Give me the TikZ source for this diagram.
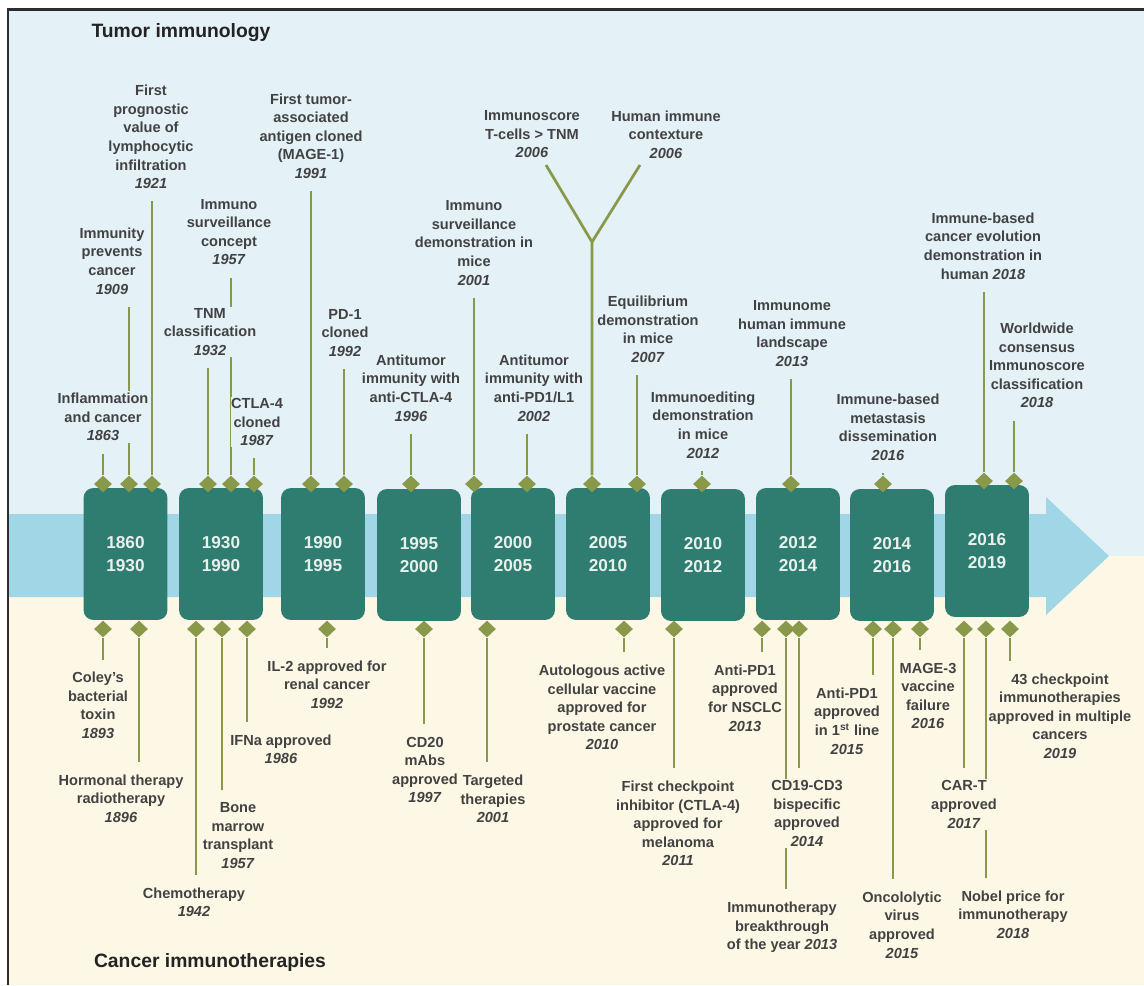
\documentclass[tikz,border=0pt]{standalone}
\usepackage{fontspec}
\setmainfont{Liberation Sans}
\usetikzlibrary{shapes.geometric, positioning, calc}

\definecolor{skyzone}{RGB}{228,241,247}
\definecolor{sandzone}{RGB}{253,248,229}
\definecolor{bandblue}{RGB}{160,214,230}
\definecolor{boxteal}{RGB}{47,124,113}
\definecolor{boxink}{RGB}{232,240,236}
\definecolor{stemgreen}{RGB}{137,153,73}
\definecolor{inkgray}{RGB}{66,66,66}
\definecolor{headink}{RGB}{35,35,35}
\definecolor{framegray}{RGB}{45,45,45}

\pgfdeclarelayer{backdrop}
\pgfdeclarelayer{stems}
\pgfsetlayers{backdrop,stems,main}

\newcommand{\evfont}{\fontsize{8.3pt}{10.55pt}\selectfont\bfseries}
\newcommand{\boxfont}{\fontsize{9.8pt}{13pt}\selectfont\bfseries}
\newcommand{\headfont}{\fontsize{11pt}{13pt}\selectfont\bfseries}

\tikzset{
    evtext/.style={align=center, font=\evfont, text=inkgray, inner xsep=0.3pt, inner ysep=1pt, outer xsep=0pt, outer ysep=0.22cm},
    evtop/.style={evtext, fill=skyzone},
    evbot/.style={evtext, fill=sandzone},
    period/.style={rectangle, rounded corners=0.2cm, fill=boxteal, minimum width=1.68cm, minimum height=2.64cm, align=center, text=boxink, font=\boxfont},
    knot/.style={diamond, fill=stemgreen, inner sep=0pt, minimum width=0.36cm, minimum height=0.34cm},
    stem/.style={draw=stemgreen, line width=0.055cm},
    heading/.style={font=\headfont, text=headink}
}

\begin{document}
\begin{tikzpicture}[x=0.02cm, y=-0.02cm]
\useasboundingbox (0,0) rectangle (1144,985);

\begin{pgfonlayer}{backdrop}
    \fill[white] (0,0) rectangle (1144,985);
    \fill[skyzone] (8,9) rectangle (1144,556);
    \fill[sandzone] (8,556) rectangle (1144,985);
    % time arrow
    \fill[bandblue] (8,514) -- (1046,514) -- (1046,497) -- (1109,556) -- (1046,615) -- (1046,597) -- (8,597) -- cycle;
    \draw[framegray, line width=0.06cm] (8,985) -- (8,9) -- (1144,9);
\end{pgfonlayer}

\node[heading] (toptitle) at (181,33) {Tumor immunology};
\node[heading] (bottitle) at (210,962) {Cancer immunotherapies};

% periods
\node[period] (p1) at (125.5,554) {1860\\1930};
\node[period] (p2) at (221,554) {1930\\1990};
\node[period] (p3) at (323,554) {1990\\1995};
\node[period] (p4) at (419,555) {1995\\2000};
\node[period] (p5) at (513,554) {2000\\2005};
\node[period] (p6) at (608,554) {2005\\2010};
\node[period] (p7) at (703,555) {2010\\2012};
\node[period] (p8) at (798,554) {2012\\2014};
\node[period] (p9) at (892,555) {2014\\2016};
\node[period] (p10) at (987,551) {2016\\2019};

% tumor immunology
\node[evtop] (lt1) at (103,417) {Inflammation\\and cancer\\\textit{1863}};
\node[evtop] (lt2) at (112,261) {Immunity\\prevents\\cancer\\\textit{1909}};
\node[evtop] (lt3) at (151,137) {First\\prognostic\\value of\\lymphocytic\\infiltration\\\textit{1921}};
\node[evtop] (lt5) at (229,232) {Immuno\\surveillance\\concept\\\textit{1957}};
\node[evtop] (lt4) at (210,332) {TNM\\classification\\\textit{1932}};
\node[evtop] (lt6) at (257,422) {CTLA-4\\cloned\\\textit{1987}};
\node[evtop] (lt7) at (311,136) {First tumor-\\associated\\antigen cloned\\(MAGE-1)\\\textit{1991}};
\node[evtop] (lt8) at (345,333) {PD-1\\cloned\\\textit{1992}};
\node[evtop] (lt9) at (411,388) {Antitumor\\immunity with\\anti-CTLA-4\\\textit{1996}};
\node[evtop] (lt10) at (474,243) {Immuno\\surveillance\\demonstration in\\mice\\\textit{2001}};
\node[evtop] (lt11) at (534,388) {Antitumor\\immunity with\\anti-PD1/L1\\\textit{2002}};
\node[evtop] (lt12) at (532,134.5) {Immunoscore\\T-cells > TNM\\\textit{2006}};
\node[evtop] (lt13) at (666,134.5) {Human immune\\contexture\\\textit{2006}};
\node[evtop] (lt14) at (648,329.5) {Equilibrium\\demonstration\\in mice\\\textit{2007}};
\node[evtop] (lt15) at (703,425) {Immunoediting\\demonstration\\in mice\\\textit{2012}};
\node[evtop] (lt16) at (792,333.5) {Immunome\\human immune\\landscape\\\textit{2013}};
\node[evtop] (lt17) at (888,427.5) {Immune-based\\metastasis\\dissemination\\\textit{2016}};
\node[evtop] (lt18) at (983,246) {Immune-based\\cancer evolution\\demonstration in\\human \textit{2018}};
\node[evtop] (lt19) at (1037,365.5) {Worldwide\\consensus\\Immunoscore\\classification\\\textit{2018}};

\coordinate (fork) at (592,242);
\coordinate (forkl) at (546,165);
\coordinate (forkr) at (640,165);

% cancer immunotherapies
\node[evbot] (lb1) at (98,705.5) {Coley's\\bacterial\\toxin\\\textit{1893}};
\node[evbot] (lb2) at (121,798.5) {Hormonal therapy\\radiotherapy\\\textit{1896}};
\node[evbot] (lb3) at (194,902.5) {Chemotherapy\\\textit{1942}};
\node[evbot] (lb4) at (238,835.5) {Bone\\marrow\\transplant\\\textit{1957}};
\node[evbot] (lb5) at (281,749.5) {IFNa approved\\\textit{1986}};
\node[evbot] (lb6) at (327,684.5) {IL-2 approved for\\renal cancer\\\textit{1992}};
\node[evbot] (lb7) at (425,770) {CD20\\mAbs\\approved\\\textit{1997}};
\node[evbot] (lb8) at (493,799) {Targeted\\therapies\\\textit{2001}};
\node[evbot] (lb9) at (602,707.5) {Autologous active\\cellular vaccine\\approved for\\prostate cancer\\\textit{2010}};
\node[evbot] (lb10) at (678,823.5) {First checkpoint\\inhibitor (CTLA-4)\\approved for\\melanoma\\\textit{2011}};
\node[evbot] (lb11) at (745,698) {Anti-PD1\\approved\\for NSCLC\\\textit{2013}};
\node[evbot] (lb12) at (782,927.5) {Immunotherapy\\breakthrough\\of the year \textit{2013}};
\node[evbot] (lb13) at (807,813.5) {CD19-CD3\\bispecific\\approved\\\textit{2014}};
\node[evbot] (lb14) at (847,721) {Anti-PD1\\approved\\in 1\textsuperscript{st} line\\\textit{2015}};
\node[evbot] (lb15) at (902,925) {Oncololytic\\virus\\approved\\\textit{2015}};
\node[evbot] (lb16) at (928,696) {MAGE-3\\vaccine\\failure\\\textit{2016}};
\node[evbot] (lb17) at (964,804.5) {CAR-T\\approved\\\textit{2017}};
\node[evbot] (lb18) at (1013,914.5) {Nobel price for\\immunotherapy\\\textit{2018}};
\node[evbot] (lb19) at (1060,716) {43 checkpoint\\immunotherapies\\approved in multiple\\cancers\\\textit{2019}};

% knots on the periods
\node[knot] (kt1) at (103,484) {};
\node[knot] (kt2) at (129,484) {};
\node[knot] (kt3) at (152,484) {};
\node[knot] (kt4) at (208,484) {};
\node[knot] (kt5) at (231,484) {};
\node[knot] (kt6) at (254,484) {};
\node[knot] (kt7) at (311,484) {};
\node[knot] (kt8) at (344,484) {};
\node[knot] (kt9) at (411,484) {};
\node[knot] (kt10) at (474,484) {};
\node[knot] (kt11) at (527,484) {};
\node[knot] (ktf) at (592,484) {};
\node[knot] (kt14) at (637,484) {};
\node[knot] (kt15) at (702,484) {};
\node[knot] (kt16) at (791,484) {};
\node[knot] (kt17) at (883,484) {};
\node[knot] (kt18) at (984,481) {};
\node[knot] (kt19) at (1014,481) {};

\node[knot] (kb1) at (103,629) {};
\node[knot] (kb2) at (139,629) {};
\node[knot] (kb3) at (196,629) {};
\node[knot] (kb4) at (222,629) {};
\node[knot] (kb5) at (247,629) {};
\node[knot] (kb6) at (327,629) {};
\node[knot] (kb7) at (424,629) {};
\node[knot] (kb8) at (487,629) {};
\node[knot] (kb9) at (624,629) {};
\node[knot] (kb10) at (674,629) {};
\node[knot] (kb11) at (762,629) {};
\node[knot] (kb12) at (786,629) {};
\node[knot] (kb13) at (799,629) {};
\node[knot] (kb14) at (873,629) {};
\node[knot] (kb15) at (893,629) {};
\node[knot] (kb16) at (920,629) {};
\node[knot] (kb17) at (964,629) {};
\node[knot] (kb18) at (986,629) {};
\node[knot] (kb19) at (1010,629) {};

\begin{pgfonlayer}{stems}
    \draw[stem] (kt1) -- (kt1 |- lt1.south);
    \draw[stem] (kt2) -- (kt2 |- lt2.south);
    \draw[stem] (kt3) -- (kt3 |- lt3.south);
    \draw[stem] (kt4) -- (kt4 |- lt4.south);
    \draw[stem] (kt5) -- (kt5 |- lt5.south);
    \draw[stem] (kt6) -- (kt6 |- lt6.south);
    \draw[stem] (kt7) -- (kt7 |- lt7.south);
    \draw[stem] (kt8) -- (kt8 |- lt8.south);
    \draw[stem] (kt9) -- (kt9 |- lt9.south);
    \draw[stem] (kt10) -- (kt10 |- lt10.south);
    \draw[stem] (kt11) -- (kt11 |- lt11.south);
    \draw[stem, line join=round] (ktf) -- (fork) -- (forkl);
    \draw[stem] (fork) -- (forkr);
    \draw[stem] (kt14) -- (kt14 |- lt14.south);
    \draw[stem] (kt15) -- (kt15 |- lt15.south);
    \draw[stem] (kt16) -- (kt16 |- lt16.south);
    \draw[stem] (kt17) -- (kt17 |- lt17.south);
    \draw[stem] (kt18) -- (kt18 |- lt18.south);
    \draw[stem] (kt19) -- (kt19 |- lt19.south);

    \draw[stem] (kb1) -- (kb1 |- lb1.north);
    \draw[stem] (kb2) -- (kb2 |- lb2.north);
    \draw[stem] (kb3) -- (kb3 |- lb3.north);
    \draw[stem] (kb4) -- (kb4 |- lb4.north);
    \draw[stem] (kb5) -- (kb5 |- lb5.north);
    \draw[stem] (kb6) -- (kb6 |- lb6.north);
    \draw[stem] (kb7) -- (kb7 |- lb7.north);
    \draw[stem] (kb8) -- (kb8 |- lb8.north);
    \draw[stem] (kb9) -- (kb9 |- lb9.north);
    \draw[stem] (kb10) -- (kb10 |- lb10.north);
    \draw[stem] (kb11) -- (kb11 |- lb11.north);
    \draw[stem] (kb12) -- (kb12 |- lb12.north);
    \draw[stem] (kb13) -- (kb13 |- lb13.north);
    \draw[stem] (kb14) -- (kb14 |- lb14.north);
    \draw[stem] (kb15) -- (kb15 |- lb15.north);
    \draw[stem] (kb16) -- (kb16 |- lb16.north);
    \draw[stem] (kb17) -- (kb17 |- lb17.north);
    \draw[stem] (kb18) -- (kb18 |- lb18.north);
    \draw[stem] (kb19) -- (kb19 |- lb19.north);
\end{pgfonlayer}

\end{tikzpicture}
\end{document}
